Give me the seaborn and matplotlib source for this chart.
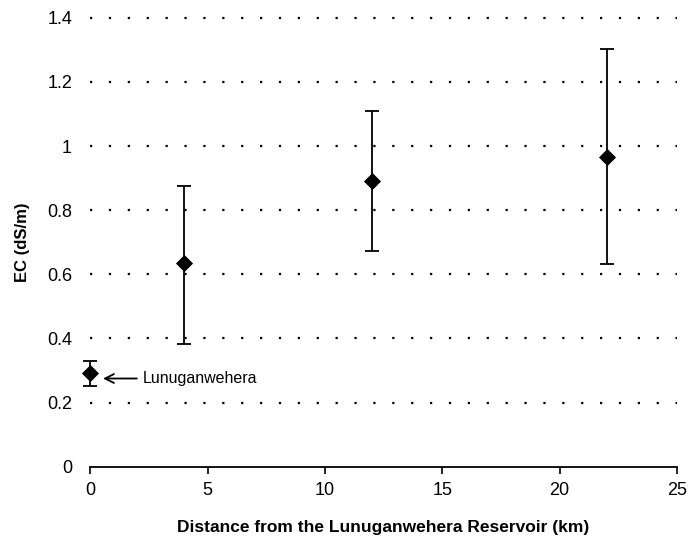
import numpy as np
import pandas as pd
import seaborn as sns
import matplotlib.pyplot as plt

# values
distance_km = [0, 4, 12, 22]
ec_mean = [0.293, 0.634, 0.890, 0.966]
ec_low = [0.252, 0.383, 0.673, 0.633]
ec_high = [0.330, 0.875, 1.109, 1.303]
y_ticks = [0, 0.2, 0.4, 0.6, 0.8, 1, 1.2, 1.4]
y_ticklabels = ['0', '0.2', '0.4', '0.6', '0.8', '1', '1.2', '1.4']
x_ticks = [0, 5, 10, 15, 20, 25]

df = pd.DataFrame({'dist': distance_km, 'ec': ec_mean,
                   'lo': ec_low, 'hi': ec_high})

sns.set_style('white')
plt.rcParams['font.family'] = ['Liberation Sans', 'DejaVu Sans']
plt.rcParams['text.color'] = 'black'
plt.rcParams['axes.labelcolor'] = 'black'
plt.rcParams['xtick.color'] = 'black'
plt.rcParams['ytick.color'] = 'black'

fig, ax = plt.subplots(figsize=(6.88, 5.42), dpi=100)
fig.subplots_adjust(left=0.131, right=0.984, bottom=0.139, top=0.967)

# dotted horizontal grid
for yv in y_ticks[1:]:
    ax.axhline(yv, color='black', lw=1.6, ls=(0, (1, 7.5)), zorder=1, clip_on=False)

ax.errorbar(df['dist'], df['ec'],
            yerr=[df['ec'] - df['lo'], df['hi'] - df['ec']],
            fmt='none', ecolor='black', elinewidth=1.3, capsize=5,
            capthick=1.3, zorder=2, clip_on=False)
sns.scatterplot(data=df, x='dist', y='ec', marker='D', s=65, color='black',
                edgecolor='black', ax=ax, zorder=3, clip_on=False)

ax.annotate('Lunuganwehera', xy=(0.55, 0.275), xytext=(2.25, 0.275),
            fontsize=11.5, va='center', ha='left',
            arrowprops=dict(arrowstyle='->', color='black', lw=1.3,
                            shrinkA=2, shrinkB=0, mutation_scale=16))

ax.set_xlim(0, 25)
ax.set_ylim(0, 1.4)
ax.set_xticks(x_ticks)
ax.set_yticks(y_ticks)
ax.set_yticklabels(y_ticklabels)
ax.tick_params(axis='x', direction='out', length=5, width=1.2, labelsize=13,
               bottom=True, pad=6)
ax.tick_params(axis='y', length=0, labelsize=13, pad=13)

for s in ['left', 'top', 'right']:
    ax.spines[s].set_visible(False)
ax.spines['bottom'].set_color('black')
ax.spines['bottom'].set_linewidth(1.3)

ax.set_xlabel('Distance from the Lunuganwehera Reservoir (km)',
              fontsize=12.5, fontweight='bold', labelpad=15)
ax.set_ylabel('EC (dS/m)', fontsize=12, fontweight='bold', labelpad=12)

fig.savefig('out.png', dpi=100)
